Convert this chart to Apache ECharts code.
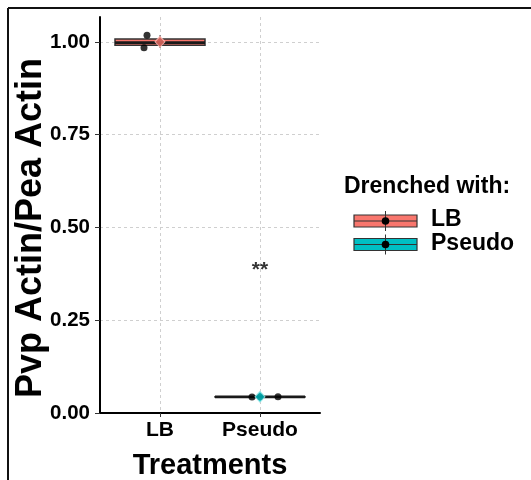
<!DOCTYPE html>
<html>
<head>
<meta charset="utf-8">
<script src="https://cdn.jsdelivr.net/npm/echarts@6/dist/echarts.min.js"></script>
<style>
  html, body { margin: 0; padding: 0; background: #fff; }
  #chart { width: 531px; height: 480px; }
</style>
</head>
<body>
<div id="chart"></div>
<script>
// Treatment groups and the ratio measured for each replicate
const categories = ['LB', 'Pseudo'];
const groupColors = ['#F8766D', '#00BFC4'];
const lbValues = [1.018, 0.984, 0.998];
const pseudoValues = [0.043, 0.0435, 0.044];
// horizontal jitter used for the replicate points (category units)
const lbJitter = [0.87, 0.84, 1.0];
const pseudoJitter = [1.92, 2.18, 2.0];
const yTicks = [0, 0.25, 0.5, 0.75, 1.0];
const xTicks = [1, 2];
const significance = { x: 2, y: 0.385, text: '**' };
const legendTitle = 'Drenched with:';
const yTitle = 'Pvp Actin/Pea Actin';

const FONT = 'Liberation Sans, Arial, sans-serif';

function quantile(sorted, p) {
  const h = (sorted.length - 1) * p;
  const lo = Math.floor(h), hi = Math.ceil(h);
  return sorted[lo] + (h - lo) * (sorted[hi] - sorted[lo]);
}
function summary(vals) {
  const s = vals.slice().sort((a, b) => a - b);
  return {
    min: s[0], q1: quantile(s, 0.25), med: quantile(s, 0.5),
    q3: quantile(s, 0.75), max: s[s.length - 1],
    mean: vals.reduce((a, b) => a + b, 0) / vals.length
  };
}

const groups = [lbValues, pseudoValues].map(summary);
const boxData = groups.map((g, i) => [i + 1, g.min, g.q1, g.med, g.q3, g.max, i]);
const pointData = lbValues.map((v, i) => [lbJitter[i], v])
  .concat(pseudoValues.map((v, i) => [pseudoJitter[i], v]));
const meanData = groups.map((g, i) => ({
  value: [i + 1, g.mean],
  itemStyle: { color: groupColors[i], borderColor: i === 0 ? '#ffc2bd' : '#9fe9ea' }
}));

const chart = echarts.init(document.getElementById('chart'), null, { renderer: 'canvas' });

const option = {
  backgroundColor: '#fff',
  animation: false,
  grid: { left: 100, top: 17, width: 220, height: 396, containLabel: false, outerBoundsMode: 'none' },
  xAxis: {
    type: 'value', min: 0.4, max: 2.6,
    name: 'Treatments', nameLocation: 'middle', nameGap: 38,
    nameTextStyle: { fontFamily: FONT, fontWeight: 'bold', fontSize: 29, color: '#000' },
    axisLine: { show: true, lineStyle: { color: '#000', width: 2 } },
    axisTick: { show: true, customValues: xTicks, length: 4, lineStyle: { color: '#333', width: 1 } },
    axisLabel: {
      customValues: xTicks, margin: 7,
      formatter: v => categories[Math.round(v) - 1] || '',
      fontFamily: FONT, fontWeight: 'bold', fontSize: 21, color: '#000'
    },
    splitLine: { show: true, lineStyle: { color: '#cfcfcf', type: [3, 3], width: 1 } }
  },
  yAxis: {
    type: 'value', min: 0, max: 1.067,
    axisLine: { show: true, lineStyle: { color: '#000', width: 2 } },
    axisTick: { show: true, customValues: yTicks, length: 5, lineStyle: { color: '#333', width: 1 } },
    axisLabel: {
      customValues: yTicks, margin: 10,
      formatter: v => v.toFixed(2),
      fontFamily: FONT, fontWeight: 'bold', fontSize: 20.5, color: '#000'
    },
    splitLine: { show: true, lineStyle: { color: '#cfcfcf', type: [3, 3], width: 1 } }
  },
  series: [
    {
      type: 'custom',
      data: boxData,
      z: 2,
      renderItem: function (params, api) {
        const x = api.value(0);
        const idx = api.value(6);
        const w = api.size([0.9, 0])[0];
        const pMin = api.coord([x, api.value(1)]);
        const pQ1 = api.coord([x, api.value(2)]);
        const pMed = api.coord([x, api.value(3)]);
        const pQ3 = api.coord([x, api.value(4)]);
        const pMax = api.coord([x, api.value(5)]);
        const left = pMed[0] - w / 2;
        const top = Math.min(pQ1[1], pQ3[1]);
        const h = Math.abs(pQ1[1] - pQ3[1]);
        return {
          type: 'group',
          children: [
            { type: 'line', shape: { x1: pMin[0], y1: pMin[1], x2: pQ1[0], y2: pQ1[1] },
              style: { stroke: '#333', lineWidth: 1.2 } },
            { type: 'line', shape: { x1: pQ3[0], y1: pQ3[1], x2: pMax[0], y2: pMax[1] },
              style: { stroke: '#333', lineWidth: 1.2 } },
            { type: 'rect', shape: { x: left, y: top, width: w, height: h },
              style: { fill: groupColors[idx], stroke: '#333', lineWidth: 1.5 } },
            { type: 'line', shape: { x1: left, y1: pMed[1], x2: left + w, y2: pMed[1] },
              style: { stroke: '#1a1a1a', lineWidth: 2.6 } }
          ]
        };
      }
    },
    {
      type: 'scatter',
      data: pointData,
      symbol: 'circle', symbolSize: 7,
      itemStyle: { color: '#000' },
      z: 3
    },
    {
      type: 'scatter',
      data: meanData,
      symbol: 'diamond', symbolSize: [10, 11],
      itemStyle: { borderWidth: 1 },
      z: 4
    },
    {
      type: 'scatter',
      data: [[significance.x, significance.y]],
      symbolSize: 0,
      label: {
        show: true, position: 'inside', formatter: significance.text,
        fontFamily: FONT, fontWeight: 'bold', fontSize: 21, color: '#000'
      },
      z: 5
    }
  ],
  graphic: [
    // frame along the top and left edges
    { type: 'line', shape: { x1: 8, y1: 8, x2: 531, y2: 8 }, style: { stroke: '#111', lineWidth: 2 } },
    { type: 'line', shape: { x1: 8, y1: 8, x2: 8, y2: 480 }, style: { stroke: '#111', lineWidth: 2 } },
    // y axis title
    { type: 'text', x: 31, y: 228, rotation: Math.PI / 2,
      style: { text: yTitle, fontFamily: FONT, fontWeight: 'bold', fontSize: 36, fill: '#000',
               align: 'center', verticalAlign: 'middle' } },
    // legend
    { type: 'text', left: 344, top: 175,
      style: { text: legendTitle, fontFamily: FONT, fontWeight: 'bold', fontSize: 23, fill: '#000' } }
  ].concat(categories.flatMap((name, i) => {
    const cy = 221 + i * 23.5;
    return [
      { type: 'rect', shape: { x: 354, y: cy - 6, width: 63, height: 12 },
        style: { fill: groupColors[i], stroke: '#333', lineWidth: 1.2 } },
      { type: 'line', shape: { x1: 354, y1: cy, x2: 417, y2: cy }, style: { stroke: '#333', lineWidth: 1.2 } },
      { type: 'line', shape: { x1: 385.5, y1: cy - 10, x2: 385.5, y2: cy + 10 }, style: { stroke: '#333', lineWidth: 1 } },
      { type: 'circle', shape: { cx: 385.5, cy: cy, r: 3.8 }, style: { fill: '#000' } },
      { type: 'text', left: 431, top: cy - 12.5,
        style: { text: name, fontFamily: FONT, fontWeight: 'bold', fontSize: 23, fill: '#000' } }
    ];
  }))
};

chart.setOption(option);
</script>
</body>
</html>
